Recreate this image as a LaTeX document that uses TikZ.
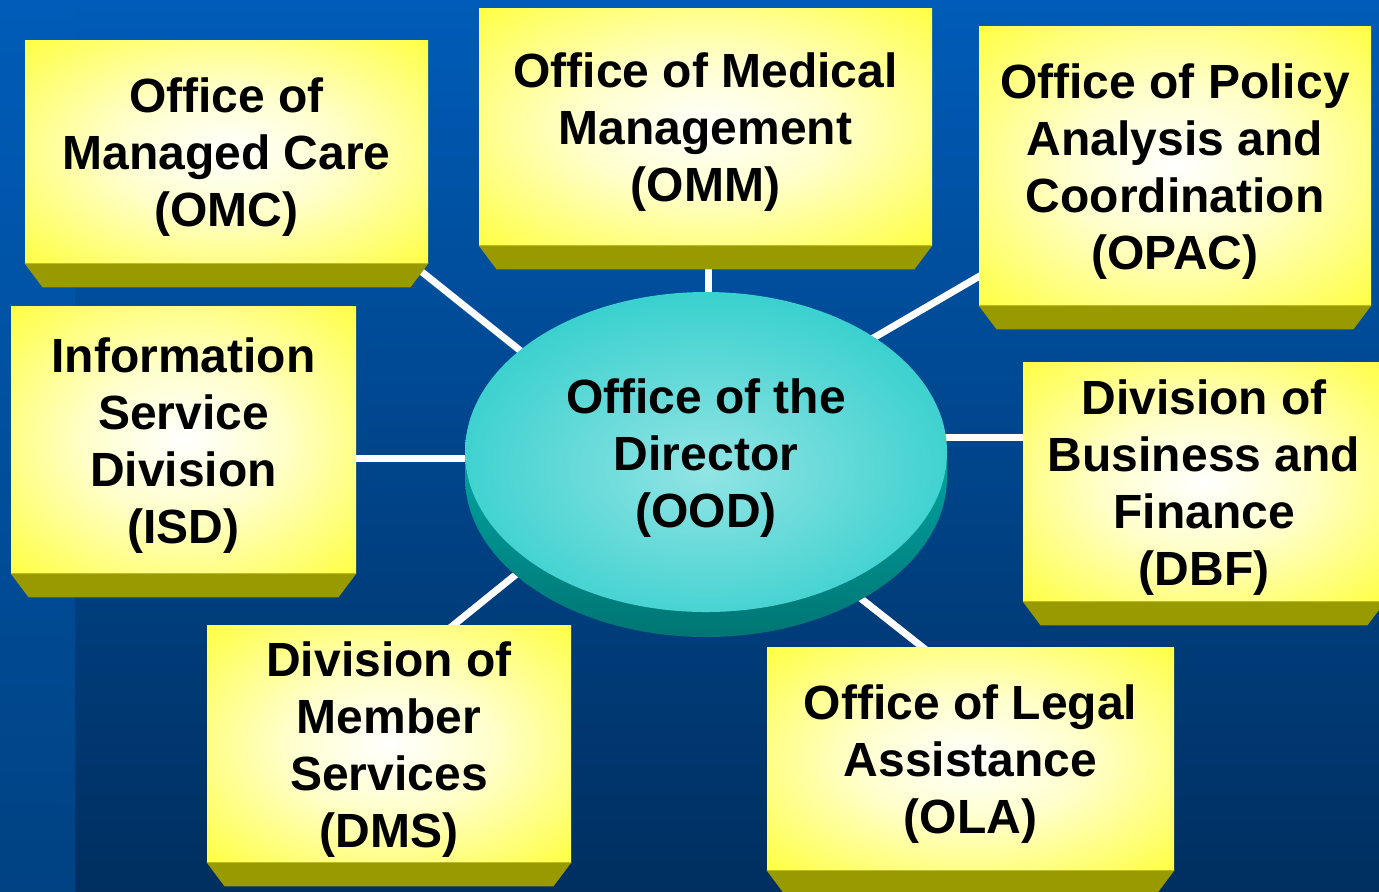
\documentclass[tikz,border=0pt]{standalone}
\usepackage{fontspec}
\setmainfont{Liberation Sans}
\usetikzlibrary{shapes.geometric}

\definecolor{bgtop}{HTML}{005CB8}
\definecolor{bgbot}{HTML}{002F60}
\definecolor{stripbot}{HTML}{004282}
\definecolor{bevel}{HTML}{999900}
\definecolor{discedge}{HTML}{00C4C0}
\definecolor{disccore}{HTML}{92E4E4}
\definecolor{sidetop}{HTML}{00A4A2}
\definecolor{sidebot}{HTML}{007573}

% yellow card face: white glow in the middle, pure yellow at the rim
\pgfdeclareradialshading{boxglow}{\pgfpoint{0bp}{0bp}}{%
  color(0bp)=(white); color(14bp)=(yellow!20!white); color(30bp)=(yellow!60!white);
  color(44bp)=(yellow!95!white); color(50bp)=(yellow); color(100bp)=(yellow)}
% top face of the central disc
\pgfdeclareradialshading{discglow}{\pgfpoint{0bp}{-3bp}}{%
  color(0bp)=(disccore); color(20bp)=(disccore!55!discedge);
  color(45bp)=(discedge); color(100bp)=(discedge)}

\tikzset{
  labelfont/.style={font=\bfseries\fontsize{24}{28.5}\selectfont, text=black, align=center},
  unitbox/.style={rectangle, inner sep=0pt, shading=boxglow},
  unitlabel/.style={inner sep=0pt, labelfont},
  disctop/.style={ellipse, inner sep=0pt, shading=discglow},
  spoke/.style={draw=white, line width=3.5pt},
}

% card: name, left, top, right, bottom (pixel units), label
\newcommand\unitcard[6]{%
  \node[unitbox, minimum width={(#4-#2)*0.5pt}, minimum height={(#5-#3)*0.5pt}]
    (#1) at ({(#2+#4)/2},{(#3+#5)/2}) {};
  \fill[bevel] (#1.south west) -- (#1.south east)
    -- ([shift={(-18,24)}]#1.south east) -- ([shift={(18,24)}]#1.south west) -- cycle;
  \node[unitlabel] (#1-label) at ([yshift=-3pt]#1.center) {#6};
}

\begin{document}
\begin{tikzpicture}[x=0.5pt,y=-0.5pt]
  \useasboundingbox (0,0) rectangle (1379,891);

  % backdrop
  \shade[top color=bgtop, bottom color=bgbot] (0,0) rectangle (1379,891);
  \shade[top color=bgtop, bottom color=stripbot] (0,0) rectangle (75,891);

  % spoke end points
  \coordinate (s-omc-a)  at (400,254.4);  \coordinate (s-omc-b)  at (560,382.4);
  \coordinate (s-omm-a)  at (708.5,240);  \coordinate (s-omm-b)  at (708.5,320);
  \coordinate (s-opac-a) at (1000,264.2); \coordinate (s-opac-b) at (850,351.6);
  \coordinate (s-isd-a)  at (340,458);    \coordinate (s-isd-b)  at (500,458);
  \coordinate (s-dbf-a)  at (1040,437.5); \coordinate (s-dbf-b)  at (920,437.5);
  \coordinate (s-dms-a)  at (440,636);    \coordinate (s-dms-b)  at (545,551);
  \coordinate (s-ola-a)  at (940,661);    \coordinate (s-ola-b)  at (840,582);

  \foreach \s in {omc,omm,opac,isd,dbf,dms,ola}
    \draw[spoke] (s-\s-a) -- (s-\s-b);

  % central disc: rim first, then the top face and its label
  \shade[top color=sidetop, bottom color=sidebot]
    (465,452) -- (465,477) arc[start angle=180, end angle=0, x radius=241, y radius=160]
    -- (947,452) -- cycle;
  \node[disctop, minimum width=241pt, minimum height=160pt] (ood) at (706,452) {};
  \node[unitlabel] (ood-label) at ([yshift=-3pt]ood.center)
    {Office of the\\Director\\(OOD)};

  % surrounding offices
  \unitcard{omc}{25}{40}{428}{263}{Office of\\Managed Care\\(OMC)}
  \unitcard{omm}{479}{8}{932}{245}{Office of Medical\\Management\\(OMM)}
  \unitcard{opac}{979}{26}{1371}{305}{Office of Policy\\Analysis and\\Coordination\\(OPAC)}
  \unitcard{isd}{11}{306}{356}{573}{Information\\Service\\Division\\(ISD)}
  \unitcard{dbf}{1023}{362}{1385}{601}{Division of\\Business and\\Finance\\(DBF)}
  \unitcard{dms}{207}{625}{571}{862}{Division of\\Member\\Services\\(DMS)}
  \unitcard{ola}{767}{647}{1174}{870}{Office of Legal\\Assistance\\(OLA)}
\end{tikzpicture}
\end{document}
